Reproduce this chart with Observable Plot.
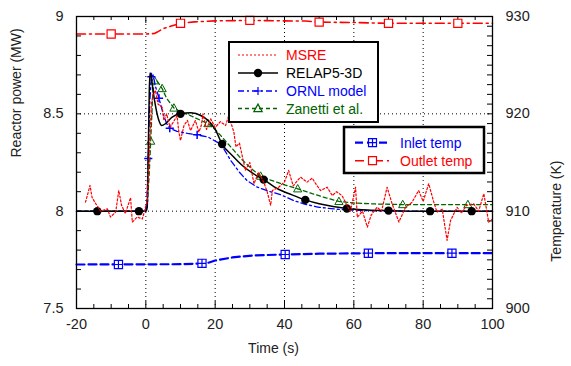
<!DOCTYPE html>
<html><head><meta charset="utf-8">
<script src="https://cdn.jsdelivr.net/npm/d3@7"></script>
<script src="https://cdn.jsdelivr.net/npm/@observablehq/plot@0.6"></script>
<style>
body{margin:0;background:#fff;font-family:"Liberation Sans",Arial,sans-serif}
#wrap{position:relative;width:571px;height:366px}
#wrap svg{display:block}
#legend{position:absolute;left:0;top:0;pointer-events:none}
</style>
</head><body><div id="wrap"></div>
<script>
// ---------- data (time s, power MW) ----------
const msre = [[-17.4,8.046],[-16.1,8.132],[-15.5,8.07],[-14.5,8.04],[-13,8.0],[-11.1,8.012],[-10.2,7.97],[-8.7,7.995],[-7.8,8.106],[-7,8.03],[-5.9,7.988],[-4.4,8.07],[-3.9,7.944],[-2.5,7.97],[-1,7.96],[-0.1,8.02],[0.4,8.05],[1,8.3],[1.6,8.55],[2.1,8.6],[2.8,8.62],[3.5,8.55],[4.7,8.534],[5.2,8.466],[6,8.5],[7,8.43],[8,8.46],[9,8.49],[9.5,8.41],[10,8.363],[11,8.44],[12,8.466],[12.9,8.414],[14.3,8.466],[15.3,8.406],[16,8.44],[16.5,8.5],[17.5,8.42],[18.7,8.474],[20,8.43],[21.5,8.46],[23,8.44],[23.9,8.49],[25.4,8.406],[26,8.33],[27,8.35],[28.7,8.21],[30,8.25],[31.2,8.141],[32.5,8.2],[34,8.15],[35,8.1],[36,8.03],[36.5,8.106],[38.3,8.123],[40,8.15],[41.2,8.209],[42.5,8.13],[44.6,8.175],[46.5,8.149],[48,8.17],[49,8.141],[50.4,8.106],[52.3,8.123],[53.8,8.08],[55,8.1],[56.6,8.08],[58,8.03],[59,8.0],[60.5,8.123],[61,7.969],[62.5,8.0],[63.9,7.918],[65,7.98],[66.7,8.02],[68,8.0],[69.6,8.123],[71,8.04],[73,7.944],[74.9,8.02],[76.8,8.046],[78.7,8.106],[80,8.05],[81.6,8.141],[83,8.05],[84,7.995],[85.5,8.01],[86.9,7.85],[87.9,7.952],[89.8,8.02],[91,7.99],[92.5,8.03],[94.6,8.038],[96,8.0],[97.5,8.09],[98.9,7.944],[100,7.96]];

const relap = [[-20,8.0],[0,8.0],[0.4,8.02],[0.7,8.3],[1.0,8.62],[1.2,8.71],[1.5,8.70],[2.0,8.63],[2.8,8.54],[3.7,8.47],[4.6,8.44],[5.7,8.45],[7.6,8.483],[10,8.5],[13,8.505],[16,8.49],[18,8.465],[20,8.42],[22,8.345],[25,8.285],[28,8.232],[31,8.193],[34,8.162],[38,8.115],[42,8.085],[46,8.058],[50,8.038],[54,8.024],[58,8.014],[64,8.006],[70,8.003],[80,8.0],[100,8.0]];
const relapMarkers = [[-14,8.0],[-2,8.0],[10,8.5],[22,8.345],[34,8.162],[46,8.058],[58,8.014],[70,8.003],[82,8.0],[94,8.0]];

const ornl = [[-20,8.0],[0,8.0],[0.3,8.05],[0.7,8.27],[1.1,8.55],[1.6,8.69],[2.1,8.70],[2.8,8.64],[3.8,8.58],[5,8.5],[6,8.45],[6.9,8.426],[9,8.41],[12,8.40],[14.8,8.392],[18,8.38],[21,8.35],[22.5,8.32],[24.5,8.26],[27,8.2],[29.2,8.157],[32,8.125],[35,8.105],[38.8,8.085],[42.6,8.055],[46,8.035],[50,8.02],[55,8.01],[60,8.005],[70,8.0],[100,8.0]];
const ornlMarkers = [[0.7,8.27],[1.6,8.69],[3.8,8.58],[6.9,8.426],[14.8,8.392]];

const zanetti = [[-20,8.0],[0,8.0],[0.5,8.05],[1.0,8.2],[1.4,8.36],[2.0,8.6],[2.5,8.67],[3.2,8.67],[4.7,8.63],[6,8.58],[8.1,8.53],[10,8.51],[13,8.49],[16,8.465],[17.9,8.45],[20,8.42],[22,8.38],[25,8.32],[28,8.26],[31,8.21],[33.1,8.18],[36,8.16],[40,8.135],[43.8,8.115],[48,8.09],[52,8.068],[55.7,8.05],[60,8.042],[66,8.037],[74.1,8.034],[85,8.034],[100,8.034]];
const zanettiMarkers = [[1.4,8.36],[2.5,8.67],[4.7,8.63],[8.1,8.53],[17.9,8.45],[33.1,8.18],[43.8,8.115],[55.7,8.05],[74.1,8.034],[92.9,8.034]];

// ---------- data (time s, temperature K) ----------
const inlet = [[-20,904.52],[10,904.55],[16,904.62],[18,904.7],[20,904.93],[25,905.25],[31,905.45],[40,905.55],[50,905.63],[64,905.68],[100,905.68]];
const inletMarkers = [[-7.9,904.52],[16.2,904.64],[40.2,905.55],[64.2,905.68],[88.3,905.68]];
const outlet = [[-20,928.2],[0,928.2],[2.5,928.25],[3.3,928.4],[5,928.75],[7.1,929.0],[10,929.3],[14,929.45],[20,929.55],[30,929.6],[40,929.55],[46,929.53],[50,929.42],[60,929.38],[70,929.3],[100,929.3]];
const outletMarkers = [[-10,928.2],[10,929.3],[30,929.6],[50,929.42],[70,929.3],[90,929.3]];

// ---------- axes ----------
const xMajor = [-20, 0, 20, 40, 60, 80, 100];
const xMinor = d3.range(-15, 100, 5).filter(v => v % 20 !== 0);
const gridX = [0, 20, 40, 60, 80];
const yMajor = [7.5, 8, 8.5, 9];
const yMinor = d3.range(76, 90, 1).map(v => v / 10);
const gridY = [8, 8.5];
const tMajor = [900, 910, 920, 930];
const tMinor = d3.range(901, 930, 1);

const series1 = [
  {name: "MSRE", color: "#ff0000", dash: "2,2", width: 1.2, symbol: null},
  {name: "RELAP5-3D", color: "#000000", dash: null, width: 1.5, symbol: "dot"},
  {name: "ORNL model", color: "#0000ff", dash: "6,3,2,3", width: 1.3, symbol: "plus"},
  {name: "Zanetti et al.", color: "#006400", dash: "4,3", width: 1.3, symbol: "tri"}
];
const series2 = [
  {name: "Inlet temp", color: "#0000ff", dash: "8,4", width: 2.2, symbol: "sqplus"},
  {name: "Outlet temp", color: "#ff0000", dash: "9,4,2,4", width: 1.6, symbol: "square"}
];

// ---------- layout ----------
const W = 571, H = 366, mL = 76, mR = 79, mT = 16, mB = 58;
const fw = W - mL - mR, fh = H - mT - mB;
const toP = t => 7.5 + (t - 900) * 0.05;   // temperature -> power-axis position
const fromP = p => 900 + (p - 7.5) * 20;

// custom symbols
const symPlus = {draw(c, s){const r = Math.sqrt(s)/2; c.moveTo(-r,0); c.lineTo(r,0); c.moveTo(0,-r); c.lineTo(0,r);}};
const symSquare = {draw(c, s){const r = Math.sqrt(s)/2; c.rect(-r,-r,2*r,2*r);}};
const symSqPlus = {draw(c, s){const r = Math.sqrt(s)/2; c.rect(-r,-r,2*r,2*r); c.moveTo(-r,0); c.lineTo(r,0); c.moveTo(0,-r); c.lineTo(0,r);}};
const symTri = {draw(c, s){const r = Math.sqrt(s)/2; c.moveTo(0,-r*1.1); c.lineTo(r*1.05,r*0.8); c.lineTo(-r*1.05,r*0.8); c.closePath();}};

const tempPts = arr => arr.map(([t, k]) => [t, toP(k)]);

const chart = Plot.plot({
  width: W, height: H,
  marginLeft: mL, marginRight: mR, marginTop: mT, marginBottom: mB,
  style: {fontFamily: "'Liberation Sans', Arial, sans-serif", fontSize: "14.5px", color: "#222", background: "#fff", overflow: "visible"},
  x: {domain: [-20, 100]},
  y: {domain: [7.5, 9]},
  marks: [
    // grid
    Plot.ruleX(gridX, {x: d => d, stroke: "#000", strokeDasharray: "1,3", strokeWidth: 1}),
    Plot.ruleY(gridY, {y: d => d, stroke: "#000", strokeDasharray: "1,3", strokeWidth: 1}),
    // inward ticks
    Plot.tickX(xMinor, {x: d => d, insetTop: fh - 4, stroke: "#000"}),
    Plot.tickX(xMinor, {x: d => d, insetBottom: fh - 4, stroke: "#000"}),
    Plot.tickX(xMajor, {x: d => d, insetTop: fh - 7, stroke: "#000"}),
    Plot.tickX(xMajor, {x: d => d, insetBottom: fh - 7, stroke: "#000"}),
    Plot.tickY(yMinor, {y: d => d, insetRight: fw - 5, stroke: "#000"}),
    Plot.tickY(tMinor.map(toP), {y: d => d, insetLeft: fw - 5, stroke: "#000"}),
    // temperature series
    Plot.line(tempPts(inlet), {x: d => d[0], y: d => d[1], stroke: series2[0].color, strokeWidth: series2[0].width, strokeDasharray: series2[0].dash}),
    Plot.dot(tempPts(inletMarkers), {x: d => d[0], y: d => d[1], symbol: symSqPlus, r: 4.6, stroke: series2[0].color, fill: "#fff", strokeWidth: 1.2}),
    Plot.line(tempPts(outlet), {x: d => d[0], y: d => d[1], stroke: series2[1].color, strokeWidth: series2[1].width, strokeDasharray: series2[1].dash}),
    Plot.dot(tempPts(outletMarkers), {x: d => d[0], y: d => d[1], symbol: symSquare, r: 4.6, stroke: series2[1].color, fill: "#fff", strokeWidth: 1.2}),
    // power series
    Plot.line(zanetti, {x: d => d[0], y: d => d[1], stroke: series1[3].color, strokeWidth: series1[3].width, strokeDasharray: series1[3].dash}),
    Plot.dot(zanettiMarkers, {x: d => d[0], y: d => d[1], symbol: symTri, r: 4.4, stroke: series1[3].color, fill: "none", strokeWidth: 1}),
    Plot.line(ornl, {x: d => d[0], y: d => d[1], stroke: series1[2].color, strokeWidth: series1[2].width, strokeDasharray: series1[2].dash}),
    Plot.dot(ornlMarkers, {x: d => d[0], y: d => d[1], symbol: symPlus, r: 4.6, stroke: series1[2].color, strokeWidth: 1.5}),
    Plot.line(relap, {x: d => d[0], y: d => d[1], stroke: series1[1].color, strokeWidth: series1[1].width, curve: "monotone-x"}),
    Plot.dot(relapMarkers, {x: d => d[0], y: d => d[1], r: 4.2, fill: series1[1].color, stroke: "none"}),
    Plot.line(msre, {x: d => d[0], y: d => d[1], stroke: series1[0].color, strokeWidth: series1[0].width, strokeDasharray: series1[0].dash}),
    // axes
    Plot.axisX({ticks: xMajor, tickSize: 0, tickPadding: 10, label: null, tickFormat: d => String(d)}),
    Plot.axisY({ticks: yMajor, tickSize: 0, tickPadding: 13, label: null, tickFormat: d => String(d)}),
    Plot.axisY({anchor: "right", ticks: tMajor.map(toP), tickSize: 0, tickPadding: 13, label: null, tickFormat: d => String(Math.round(fromP(d)))}),
    Plot.frame({stroke: "#000", strokeWidth: 1.3}),
    // axis titles
    Plot.text(["Reactor power (MW)"], {frameAnchor: "left", text: d => d, rotate: -90, dx: -60, dy: -5, fontSize: 14, fill: "#222"}),
    Plot.text(["Temperature (K)"], {frameAnchor: "right", text: d => d, rotate: -90, dx: 64, dy: -2, fontSize: 14, fill: "#222"}),
    Plot.text(["Time (s)"], {frameAnchor: "bottom", text: d => d, dx: -11, dy: 44, fontSize: 14, fill: "#222"})
  ]
});
const wrap = document.getElementById("wrap");
wrap.appendChild(chart);

// ---------- legends (overlay) ----------
const svg = d3.select(wrap).append("svg").attr("id", "legend").attr("width", W).attr("height", H)
  .style("font-family", "'Liberation Sans', Arial, sans-serif").style("font-size", "14px");
const symMap = {dot: d3.symbolCircle, plus: symPlus, tri: symTri, square: symSquare, sqplus: symSqPlus};
function legend(items, box, rowY, x0, x1, tx, bw) {
  svg.append("rect").attr("x", box[0]).attr("y", box[1]).attr("width", box[2]).attr("height", box[3])
    .attr("fill", "#fff").attr("stroke", "#000").attr("stroke-width", bw);
  items.forEach((s, i) => {
    const y = rowY[i];
    svg.append("line").attr("x1", x0).attr("x2", x1).attr("y1", y).attr("y2", y)
      .attr("stroke", s.color).attr("stroke-width", s.width).attr("stroke-dasharray", s.dash);
    if (s.symbol) {
      const sym = symMap[s.symbol];
      const size = s.symbol === "dot" ? Math.PI * 4.2 * 4.2 : Math.PI * 4.5 * 4.5;
      svg.append("path").attr("transform", `translate(${(x0 + x1) / 2},${y})`)
        .attr("d", d3.symbol(sym, size)())
        .attr("fill", s.symbol === "dot" ? s.color : (s.symbol === "plus" || s.symbol === "tri") ? "none" : "#fff")
        .attr("stroke", s.symbol === "dot" ? "none" : s.color).attr("stroke-width", 1.2);
    }
    svg.append("text").attr("x", tx).attr("y", y).attr("dy", "0.36em").attr("fill", s.color).text(s.name);
  });
}
legend(series1, [229, 42, 149, 80], [55, 73, 91, 108.5], 238, 278, 286, 2);
legend(series2, [344, 127, 140, 46], [142.7, 160.7], 355, 390, 400, 2.5);
</script>
</body></html>
